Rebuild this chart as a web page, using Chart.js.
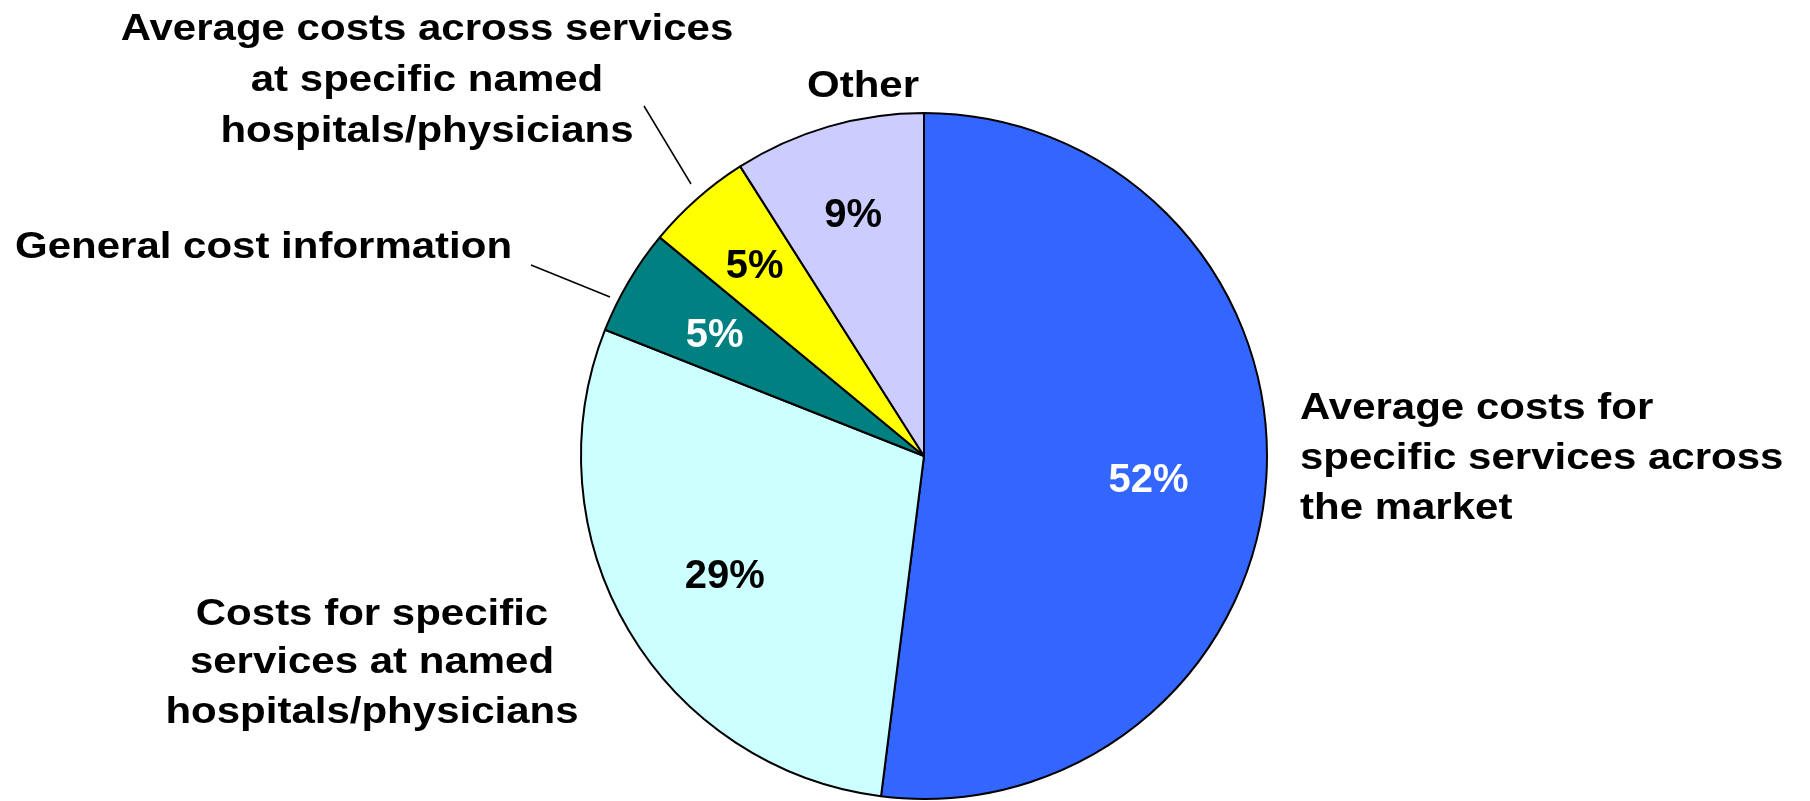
<!DOCTYPE html>
<html>
<head>
<meta charset="utf-8">
<script src="https://cdn.jsdelivr.net/npm/chart.js@4.4.1/dist/chart.umd.min.js"></script>
<style>
  html, body { margin: 0; padding: 0; background: #fff; }
  canvas { display: block; }
</style>
</head>
<body>
<canvas id="pie" width="1810" height="801"></canvas>

<script>
    // survey answers, clockwise from 12 o'clock
    const categories = [
        'Average costs for specific services across the market',
        'Costs for specific services at named hospitals/physicians',
        'General cost information',
        'Average costs across services at specific named hospitals/physicians',
        'Other'
    ];
    const shares = [52, 29, 5, 5, 9];

    const sliceColors = ['#3366ff', '#ccffff', '#008080', '#ffff00', '#ccccff'];
    const pctColors = ['#ffffff', '#000000', '#ffffff', '#000000', '#000000'];
    // how far out (fraction of radius) each percentage sits, plus a small vertical nudge
    const pctRadius = [0.656, 0.675, 0.709, 0.747, 0.74];
    const pctShiftY = [7, 0, 0, 0, 0];

    const PCT_FONT = 'bold 40px "Liberation Sans", Arial, sans-serif';
    const CAP_FONT = 'bold 42px "Liberation Sans", Arial, sans-serif';
    const CAP_SQUASH = 0.88; // captions are a little flatter than they are wide

    // category captions around the pie, split into lines (x, baselines)
    const captions = [
        { lines: ['Average costs for', 'specific services across', 'the market'], x: 1300, y: [419, 469, 519], align: 'left' },
        { lines: ['Costs for specific', 'services at named', 'hospitals/physicians'], x: 372, y: [625, 673, 723], align: 'center' },
        { lines: ['General cost information'], x: 15, y: [258], align: 'left', leader: [531, 265, 610, 297] },
        { lines: ['Average costs across services', 'at specific named', 'hospitals/physicians'], x: 427, y: [40, 91, 142], align: 'center', leader: [644, 106, 691, 184] },
        { lines: ['Other'], x: 863, y: [97], align: 'center' }
    ];

    const labelPlugin = {
        id: 'pieLabels',
        afterDatasetsDraw(chart) {
            const ctx = chart.ctx;
            const arcs = chart.getDatasetMeta(0).data;
            ctx.save();
            ctx.font = PCT_FONT;
            ctx.textBaseline = 'alphabetic';
            ctx.textAlign = 'center';
            arcs.forEach((arc, i) => {
                const p = arc.getProps(['x', 'y', 'startAngle', 'endAngle', 'outerRadius'], true);
                const mid = (p.startAngle + p.endAngle) / 2;
                const r = p.outerRadius * pctRadius[i];
                const cx = p.x + Math.cos(mid) * r;
                const cy = p.y + Math.sin(mid) * r + pctShiftY[i];
                ctx.fillStyle = pctColors[i];
                // baseline sits ~0.36em below the digits' middle
                ctx.fillText(chart.data.datasets[0].data[i] + '%', cx, cy + 14.5);
            });

            ctx.fillStyle = '#000';
            ctx.font = CAP_FONT;
            captions.forEach(c => {
                ctx.textAlign = c.align;
                c.lines.forEach((t, k) => {
                    ctx.save();
                    ctx.translate(c.x, c.y[k]);
                    ctx.scale(1, CAP_SQUASH);
                    ctx.fillText(t, 0, 0);
                    ctx.restore();
                });
            });

            ctx.strokeStyle = '#000';
            ctx.lineWidth = 1.5;
            captions.filter(c => c.leader).forEach(c => {
                ctx.beginPath();
                ctx.moveTo(c.leader[0], c.leader[1]);
                ctx.lineTo(c.leader[2], c.leader[3]);
                ctx.stroke();
            });
            ctx.restore();
        }
    };

    new Chart(document.getElementById('pie').getContext('2d'), {
        type: 'pie',
        data: {
            labels: categories,
            datasets: [{
                data: shares,
                backgroundColor: sliceColors,
                borderColor: '#000',
                borderWidth: 2,
                hoverOffset: 0
            }]
        },
        options: {
            responsive: false,
            animation: false,
            layout: { padding: { top: 112, bottom: 1, left: 580, right: 542 } },
            plugins: {
                legend: { display: false },
                tooltip: { enabled: false }
            }
        },
        plugins: [labelPlugin]
    });
</script>
</body>
</html>
